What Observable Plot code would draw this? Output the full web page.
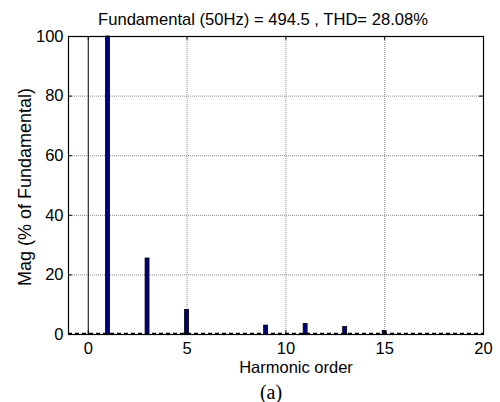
<!DOCTYPE html>
<html>
<head>
<meta charset="utf-8">
<script src="https://cdn.jsdelivr.net/npm/d3@7"></script>
<script src="https://cdn.jsdelivr.net/npm/@observablehq/plot@0.6"></script>
<style>
  html, body { margin: 0; padding: 0; background: #fff; }
  #wrap { position: relative; width: 500px; height: 402px; font-family: "Liberation Sans", Arial, sans-serif; }
  .t { position: absolute; white-space: nowrap; color: #000; line-height: 1; }
</style>
</head>
<body>
<div id="wrap"></div>
<script>
// Data
const harmonicOrders = [1, 3, 5, 9, 11, 13, 15];
const magnitudes = [100, 25.5, 8.2, 3.0, 3.5, 2.5, 1.2];
const dcOrder = [0];
const dcMagnitude = [100];
const noiseFloor = [0.4];
const xTicks = [0, 5, 10, 15, 20];
const yTicks = [0, 20, 40, 60, 80, 100];
const gridXVals = [5, 10, 15];
const gridYVals = [20, 40, 60, 80];
const titleText = "Fundamental (50Hz) = 494.5 , THD= 28.08%";
const xLabel = "Harmonic order";
const yLabel = "Mag (% of Fundamental)";
const caption = "(a)";

const bars = harmonicOrders.map((h, i) => ({h, m: magnitudes[i]}));
const halfW = 0.1;
const FONT = '"Liberation Sans", Arial, sans-serif';

const chart = Plot.plot({
  width: 500,
  height: 402,
  marginLeft: 68,
  marginRight: 17,
  marginTop: 36,
  marginBottom: 68,
  style: {fontFamily: FONT, fontSize: "16.5px", background: "white", color: "black"},
  x: {domain: [-1, 20], ticks: xTicks, label: null},
  y: {domain: [0, 100], ticks: yTicks, label: null},
  marks: [
    Plot.ruleX(gridXVals, {stroke: "#8c8c8c", strokeDasharray: "1,1", strokeWidth: 1, strokeOpacity: 1}),
    Plot.ruleY(gridYVals, {stroke: "#8c8c8c", strokeDasharray: "1,1", strokeWidth: 1, strokeOpacity: 1}),
    Plot.ruleY(noiseFloor, {y: d => d, stroke: "black", strokeDasharray: "4,3", strokeWidth: 1.2}),
    Plot.ruleX(dcOrder, {x: d => d, y1: 0, y2: (d, i) => dcMagnitude[i], stroke: "black", strokeWidth: 1}),
    Plot.rectY(bars, {x1: d => d.h - halfW, x2: d => d.h + halfW, y1: 0, y2: "m", fill: "#00007f", stroke: "black", strokeWidth: 0.8}),
    // inward ticks (MATLAB style)
    Plot.ruleY(yTicks, {y: d => d, x1: -1, x2: -0.8, stroke: "black"}),
    Plot.ruleY(yTicks, {y: d => d, x1: 19.8, x2: 20, stroke: "black"}),
    Plot.ruleX(xTicks, {x: d => d, y1: 0, y2: 1.3, stroke: "black"}),
    Plot.ruleX(xTicks, {x: d => d, y1: 98.7, y2: 100, stroke: "black"}),
    Plot.axisY({ticks: yTicks, tickSize: 0, tickPadding: 5, fontSize: 16.5, fontFamily: FONT, label: null}),
    Plot.axisX({ticks: xTicks, tickSize: 0, tickPadding: 8, fontSize: 16.5, fontFamily: FONT, label: null}),
    Plot.frame({stroke: "black", strokeWidth: 1.2})
  ]
});

const wrap = document.getElementById("wrap");
wrap.appendChild(chart);

function addText(txt, css) {
  const d = document.createElement("div");
  d.className = "t";
  d.textContent = txt;
  Object.assign(d.style, css);
  wrap.appendChild(d);
}
addText(titleText, {left: "263px", top: "12px", transform: "translateX(-50%)", fontSize: "16.6px"});
addText(xLabel, {left: "296px", top: "359px", transform: "translateX(-50%)", fontSize: "16.5px"});
addText(yLabel, {left: "25px", top: "187px", transform: "translate(-50%,-50%) rotate(-90deg)", fontSize: "18px"});
addText(caption, {left: "271px", top: "382px", transform: "translateX(-50%)", fontSize: "20px", fontFamily: '"Liberation Serif", "Times New Roman", serif'});
</script>
</body>
</html>
